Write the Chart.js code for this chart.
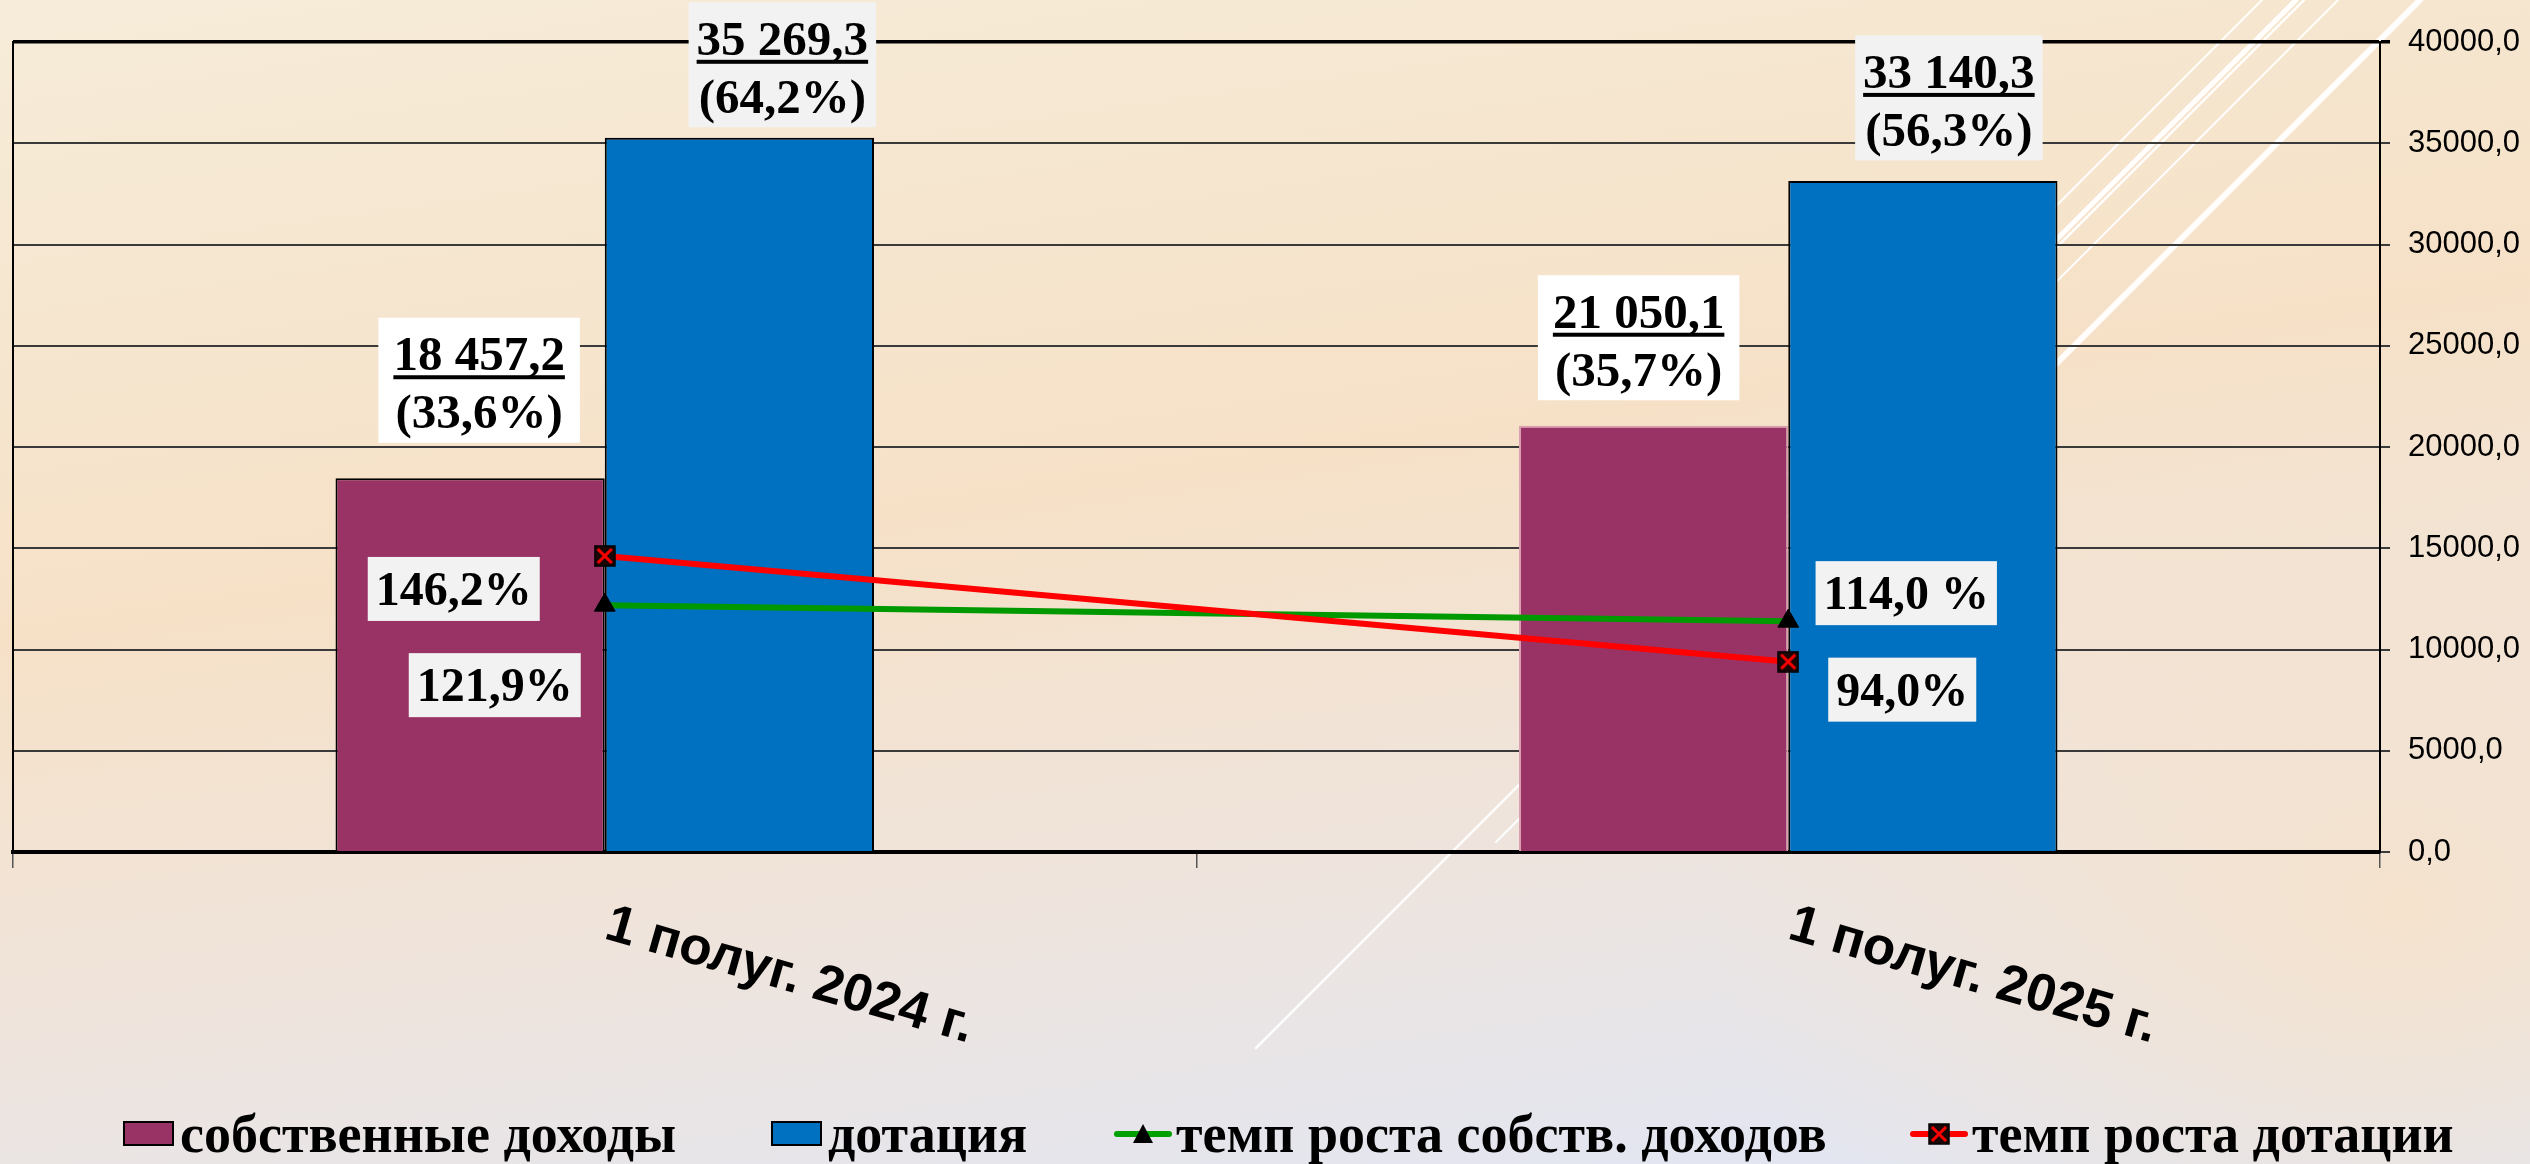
<!DOCTYPE html>
<html lang="ru">
<head>
  <meta charset="UTF-8" />
  <title>Собственные доходы и дотация</title>
  <script src="https://cdn.jsdelivr.net/npm/chart.js"></script>
  <style>
    html, body { margin: 0; padding: 0; }
    body {
      width: 2530px;
      height: 1164px;
      overflow: hidden;
      position: relative;
      background:
        radial-gradient(ellipse 1000px 700px at 95% 78%, rgba(246, 226, 202, 0.9), rgba(246, 226, 202, 0) 70%),
        linear-gradient(172deg, #f6ecd9 0%, #f6e1c7 42%, #efe4dc 68%, #dfe6f7 100%);
    }
    #deco, #wrap { position: absolute; left: 0; top: 0; }
    .legend-item {
      position: absolute;
      top: 1098px;
      height: 71px;
      display: flex;
      align-items: center;
      font: bold 54px 'Liberation Serif', 'Times New Roman', serif;
      color: #000;
      white-space: nowrap;
    }
    .legend-item .box {
      width: 51px;
      height: 25px;
      box-sizing: border-box;
      border: 2px solid #000;
      margin-right: 6px;
    }
    .legend-item svg { margin-right: 4px; }
  </style>
</head>
<body>
  <!-- white diagonal strokes of the slide background -->
  <svg id="deco" width="2530" height="1164">
    <g stroke="#ffffff" stroke-opacity="0.95" fill="none" stroke-linecap="round">
      <line x1="2262" y1="0" x2="1762" y2="500" stroke-width="2" />
      <line x1="2296" y1="0" x2="1796" y2="500" stroke-width="5" />
      <line x1="2304" y1="0" x2="1256" y2="1048" stroke-width="2.5" />
      <line x1="2338" y1="0" x2="1496" y2="842" stroke-width="2" />
      <line x1="2420" y1="0" x2="1920" y2="500" stroke-width="6" />
    </g>
  </svg>

  <div id="wrap">
    <canvas id="incomeChart" width="2530" height="1164"></canvas>
  </div>

  <div class="legend-item" style="left:123px">
    <span class="box" style="background:#993366"></span>собственные доходы
  </div>
  <div class="legend-item" style="left:771px">
    <span class="box" style="background:#0070c0"></span>дотация
  </div>
  <div class="legend-item" style="left:1114px">
    <svg width="58" height="24" viewBox="0 0 58 24">
      <line x1="3" y1="12" x2="55" y2="12" stroke="#00a000" stroke-width="6" stroke-linecap="round" />
      <polygon points="29,2 39,21 19,21" fill="#000" />
    </svg>темп роста собств. доходов
  </div>
  <div class="legend-item" style="left:1910px">
    <svg width="58" height="24" viewBox="0 0 58 24">
      <line x1="3" y1="12" x2="55" y2="12" stroke="#ff0000" stroke-width="6" stroke-linecap="round" />
      <rect x="19" y="2" width="20" height="20" fill="#1a0606" stroke="#000" stroke-width="1.5" />
      <path d="M22 5 L36 19 M36 5 L22 19" stroke="#ff0000" stroke-width="3" />
    </svg>темп роста дотации
  </div>

  <script>
    const categories = ['1 полуг. 2024 г.', '1 полуг. 2025 г.'];
    const ownIncome = [18457.2, 21050.1];
    const subsidy = [35269.3, 33140.3];
    const ownShare = ['(33,6%)', '(35,7%)'];
    const subsidyShare = ['(64,2%)', '(56,3%)'];
    const ownGrowth = [121.9, 114.0];
    const subsidyGrowth = [146.2, 94.0];
    const ownGrowthText = ['121,9%', '114,0 %'];
    const subsidyGrowthText = ['146,2%', '94,0%'];
    const yTicks = [0, 5000, 10000, 15000, 20000, 25000, 30000, 35000, 40000];

    const serif = '"Liberation Serif", "Times New Roman", serif';
    const sans = '"Liberation Sans", Arial, sans-serif';

    // 18457.2 -> "18 457,2"
    function fmtValue(v) {
      const [int, dec] = v.toFixed(1).split('.');
      return int.replace(/\B(?=(\d{3})+(?!\d))/g, ' ') + ',' + dec;
    }

    // black square with a red cross, like the Excel marker
    function crossMarker() {
      const c = document.createElement('canvas');
      c.width = 22; c.height = 22;
      const g = c.getContext('2d');
      g.fillStyle = '#1a0606';
      g.fillRect(1, 1, 20, 20);
      g.strokeStyle = '#000';
      g.lineWidth = 1.5;
      g.strokeRect(1, 1, 20, 20);
      g.strokeStyle = '#ff0000';
      g.lineWidth = 3;
      g.beginPath();
      g.moveTo(4, 4); g.lineTo(18, 18);
      g.moveTo(18, 4); g.lineTo(4, 18);
      g.stroke();
      return c;
    }

    function twoLineBox(ctx, cx, cy, top, bottom, fill, pad) {
      ctx.font = 'bold 49px ' + serif;
      const w1 = ctx.measureText(top).width;
      const w2 = ctx.measureText(bottom).width;
      const w = Math.max(w1, w2) + pad * 2, h = 125;
      ctx.fillStyle = fill;
      ctx.fillRect(cx - w / 2, cy - h / 2, w, h);
      ctx.fillStyle = '#000';
      ctx.textAlign = 'center';
      ctx.textBaseline = 'alphabetic';
      ctx.fillText(top, cx, cy - 10);
      ctx.fillRect(cx - w1 / 2, cy - 5, w1, 4);
      ctx.fillText(bottom, cx, cy + 48);
    }

    function oneLineBox(ctx, cx, cy, text, fill) {
      ctx.font = 'bold 48px ' + serif;
      const w = ctx.measureText(text).width + 16, h = 64;
      ctx.fillStyle = fill;
      ctx.fillRect(cx - w / 2, cy - h / 2, w, h);
      ctx.fillStyle = '#000';
      ctx.textAlign = 'center';
      ctx.textBaseline = 'alphabetic';
      ctx.fillText(text, cx, cy + 16);
    }

    // where each label box sits relative to its bar top / point
    const labelOffsets = {
      own: [[9, -98], [-15, -88]],
      subsidy: [[43, -73], [26, -83]],
      ownGrowth: [[-110, 80], [118, -28]],
      subsidyGrowth: [[-151, 33], [114, 28]]
    };

    const valueLabels = {
      id: 'valueLabels',
      afterDatasetsDraw(chart) {
        const ctx = chart.ctx;
        ctx.save();
        chart.getDatasetMeta(0).data.forEach((el, i) => {
          const [dx, dy] = labelOffsets.own[i];
          twoLineBox(ctx, el.x + dx, el.y + dy, fmtValue(ownIncome[i]), ownShare[i], '#ffffff', 15);
        });
        chart.getDatasetMeta(1).data.forEach((el, i) => {
          const [dx, dy] = labelOffsets.subsidy[i];
          twoLineBox(ctx, el.x + dx, el.y + dy, fmtValue(subsidy[i]), subsidyShare[i], '#f2f2f2', 8);
        });
        chart.getDatasetMeta(2).data.forEach((el, i) => {
          const [dx, dy] = labelOffsets.ownGrowth[i];
          oneLineBox(ctx, el.x + dx, el.y + dy, ownGrowthText[i], '#f2f2f2');
        });
        chart.getDatasetMeta(3).data.forEach((el, i) => {
          const [dx, dy] = labelOffsets.subsidyGrowth[i];
          oneLineBox(ctx, el.x + dx, el.y + dy, subsidyGrowthText[i], '#f2f2f2');
        });
        ctx.restore();
      }
    };

    // slanted category names under the axis
    const categoryLabels = {
      id: 'categoryLabels',
      afterDraw(chart) {
        const { ctx, scales: { x } } = chart;
        ctx.save();
        ctx.font = 'bold 53px ' + sans;
        ctx.fillStyle = '#000';
        ctx.textAlign = 'left';
        ctx.textBaseline = 'alphabetic';
        categories.forEach((c, i) => {
          ctx.save();
          ctx.translate(x.getPixelForValue(i) - 2, 938);
          ctx.rotate(16 * Math.PI / 180);
          ctx.fillText(c, 0, 0);
          ctx.restore();
        });
        ctx.restore();
      }
    };

    const ctx = document.getElementById('incomeChart').getContext('2d');
    new Chart(ctx, {
      type: 'bar',
      data: {
        labels: categories,
        datasets: [
          {
            label: 'собственные доходы',
            data: ownIncome,
            backgroundColor: '#993366',
            borderColor: ['#000000', '#d9a0b2'],
            borderWidth: 2,
            yAxisID: 'y',
            order: 2
          },
          {
            label: 'дотация',
            data: subsidy,
            backgroundColor: '#0070c0',
            borderColor: '#000000',
            borderWidth: 2,
            yAxisID: 'y',
            order: 2
          },
          {
            type: 'line',
            label: 'темп роста собств. доходов',
            data: ownGrowth,
            borderColor: '#009900',
            borderWidth: 6,
            pointStyle: 'triangle',
            pointRadius: 12,
            pointBackgroundColor: '#000',
            pointBorderColor: '#000',
            pointBorderWidth: 1,
            yAxisID: 'y2',
            order: 1
          },
          {
            type: 'line',
            label: 'темп роста дотации',
            data: subsidyGrowth,
            borderColor: '#ff0000',
            borderWidth: 6,
            pointStyle: crossMarker(),
            yAxisID: 'y2',
            order: 0
          }
        ]
      },
      options: {
        responsive: false,
        animation: false,
        devicePixelRatio: 1,
        layout: { padding: { top: 42, left: 10, right: 0, bottom: 0 } },
        datasets: { bar: { barPercentage: 1, categoryPercentage: 0.455 } },
        scales: {
          x: {
            offset: true,
            ticks: { display: false },
            grid: { offset: true, drawOnChartArea: false, drawTicks: true, tickLength: 16, color: '#555', lineWidth: 1.5 },
            border: { display: true, color: '#000', width: 4 },
            afterFit: s => { s.height = 312; }
          },
          y: {
            position: 'right',
            min: 0,
            max: 40000,
            afterBuildTicks: s => { s.ticks = yTicks.map(v => ({ value: v })); },
            ticks: {
              color: '#000',
              padding: 18,
              font: { family: sans, size: 31 },
              callback: v => v.toFixed(1).replace('.', ',')
            },
            grid: {
              color: c => (c.tick && c.tick.value === 40000) ? '#000' : '#3a3a3a',
              lineWidth: c => (c.tick && c.tick.value === 40000) ? 3.5 : 2,
              tickLength: 10
            },
            border: { display: true, color: '#000', width: 2 },
            afterFit: s => { s.width = 150; }
          },
          y2: {
            position: 'left',
            min: 0,
            max: 400,
            ticks: { display: false },
            grid: { display: false },
            border: { display: true, color: '#000', width: 2 },
            afterFit: s => { s.width = 0; }
          }
        },
        plugins: {
          legend: { display: false },
          tooltip: { enabled: false }
        }
      },
      plugins: [valueLabels, categoryLabels]
    });
  </script>
</body>
</html>
